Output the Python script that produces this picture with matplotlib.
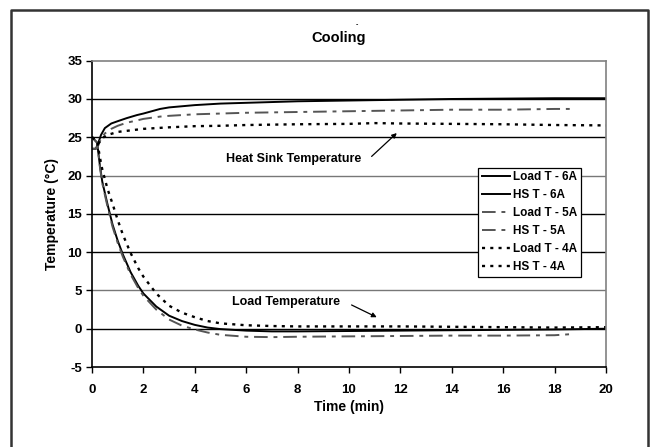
import matplotlib
matplotlib.use("Agg")
import matplotlib.pyplot as plt

plt.rcParams['font.family'] = ['Liberation Sans', 'DejaVu Sans']
plt.rcParams['font.weight'] = 'bold'
plt.rcParams['axes.unicode_minus'] = False

# ---- data ----
t_load = [0, 0.2, 0.3, 0.4, 0.6, 0.8, 1.0, 1.2, 1.5, 1.8, 2.0, 2.5, 3.0, 3.5, 4.0, 4.5,
          5, 6, 7, 8, 10, 12, 14, 16, 18, 20]
load_6a = [25, 24.3, 21.5, 19.2, 16.3, 13.6, 11.5, 9.7, 7.4, 5.6, 4.6, 2.9, 1.7, 1.0, 0.5, 0.15,
           -0.05, -0.25, -0.35, -0.35, -0.3, -0.25, -0.2, -0.15, -0.1, 0.0]
t_load5 = [0, 0.2, 0.3, 0.4, 0.6, 0.8, 1.0, 1.2, 1.5, 1.8, 2.0, 2.5, 3.0, 3.5, 4.0, 4.5,
           5, 6, 7, 8, 10, 12, 14, 16, 18, 18.7]
load_5a = [25, 24.3, 21.3, 19.0, 16.0, 13.3, 11.2, 9.4, 7.1, 5.3, 4.3, 2.5, 1.2, 0.4, -0.1, -0.5,
           -0.8, -1.05, -1.1, -1.05, -1.0, -0.95, -0.9, -0.9, -0.85, -0.7]
load_4a = [25, 24.6, 22.5, 20.8, 18.3, 16.3, 14.2, 12.3, 9.9, 7.9, 6.8, 4.6, 3.0, 2.1, 1.5, 1.0,
           0.7, 0.45, 0.35, 0.3, 0.3, 0.3, 0.25, 0.2, 0.15, 0.2]

t_hs = [0, 0.15, 0.25, 0.35, 0.5, 0.75, 1.0, 1.35, 1.75, 2.0, 2.65, 3.0, 4.0, 5, 6, 8, 10,
        12, 14, 16, 18, 20]
hs_6a = [23.5, 23.5, 24.3, 25.3, 26.2, 26.8, 27.1, 27.5, 27.9, 28.1, 28.7, 28.9, 29.2, 29.4,
         29.5, 29.7, 29.8, 29.9, 30.0, 30.05, 30.1, 30.1]
t_hs5 = [0, 0.15, 0.25, 0.35, 0.5, 0.75, 1.0, 1.35, 1.75, 2.0, 2.65, 3.0, 4.0, 5, 6, 8, 10,
         12, 14, 16, 18, 18.7]
hs_5a = [23.5, 23.5, 24.0, 24.8, 25.5, 26.1, 26.5, 26.9, 27.2, 27.4, 27.7, 27.8, 28.0, 28.1,
         28.2, 28.3, 28.4, 28.5, 28.6, 28.6, 28.7, 28.7]
t_hs4 = [0, 0.15, 0.25, 0.4, 0.6, 1.0, 1.5, 2.0, 2.5, 3.0, 4.0, 5, 6, 8, 10, 11, 12, 14, 16,
         18, 20]
hs_4a = [25.0, 24.6, 24.2, 24.9, 25.3, 25.7, 25.9, 26.1, 26.2, 26.3, 26.45, 26.5, 26.6, 26.7,
         26.75, 26.85, 26.8, 26.75, 26.7, 26.6, 26.55]

x_ticks = [0, 2, 4, 6, 8, 10, 12, 14, 16, 18, 20]
y_ticks = [-5, 0, 5, 10, 15, 20, 25, 30, 35]

# ---- figure ----
fig = plt.figure(figsize=(6.5, 4.47), dpi=100)
ax = fig.add_axes([92/650, 1-367/447, (606-92)/650, (367-60.7)/447])

dashdot = (0, (7, 3, 2, 3))
dotted = (0, (1.3, 2.2))

ax.plot(t_load, load_6a, color='black', lw=1.4, label='Load T - 6A')
ax.plot(t_hs, hs_6a, color='black', lw=1.4, label='HS T - 6A')
ax.plot(t_load5, load_5a, color='#555555', lw=1.4, ls=dashdot, label='Load T - 5A')
ax.plot(t_hs5, hs_5a, color='#555555', lw=1.4, ls=dashdot, label='HS T - 5A')
ax.plot(t_load, load_4a, color='black', lw=1.7, ls=dotted, label='Load T - 4A')
ax.plot(t_hs4, hs_4a, color='black', lw=1.7, ls=dotted, label='HS T - 4A')

ax.set_xlim(0, 20)
ax.set_ylim(-5, 35)
ax.set_xticks(x_ticks)
ax.set_yticks(y_ticks)
ax.tick_params(axis='both', direction='out', length=4, width=1, labelsize=9.5)
ax.tick_params(axis='x', pad=8)
ax.tick_params(axis='y', pad=3)
for lab in ax.get_xticklabels() + ax.get_yticklabels():
    lab.set_fontweight('bold')

ax.set_axisbelow(True)
ax.yaxis.grid(True, lw=1.0)
grid_colors = {-5: 'none', 0: 'black', 5: '#777777', 10: 'black', 15: 'black', 20: '#777777',
               25: 'black', 30: 'black', 35: 'none'}
for v, gl in zip(y_ticks, ax.get_ygridlines()):
    gl.set_color(grid_colors[v])

ax.spines['left'].set_color('black')
ax.spines['bottom'].set_color('black')
ax.spines['top'].set_color('#808080')
ax.spines['right'].set_color('#808080')
for s in ax.spines.values():
    s.set_linewidth(1.2)

ax.set_xlabel('Time (min)', fontsize=10, fontweight='bold', labelpad=3)
ax.set_ylabel('Temperature (°C)', fontsize=10, fontweight='bold', labelpad=6)

fig.text(339/650, 1-38/447, 'Cooling', ha='center', va='center', fontsize=10.5, fontweight='bold')
fig.text(357/650, 1-25/447, '-', ha='center', va='center', fontsize=5)

arrow_kw = dict(arrowstyle='-|>', color='black', lw=0.9, mutation_scale=7, shrinkA=0, shrinkB=0)
ax.text(7.86, 22.1, 'Heat Sink Temperature', ha='center', va='center', fontsize=9,
        fontweight='bold')
ax.annotate('', xy=(11.86, 25.55), xytext=(10.88, 22.5), arrowprops=arrow_kw)
ax.text(7.55, 3.5, 'Load Temperature', ha='center', va='center', fontsize=9,
        fontweight='bold')
ax.annotate('', xy=(11.08, 1.5), xytext=(10.1, 3.1), arrowprops=arrow_kw)

leg = ax.legend(loc='upper left', bbox_to_anchor=(0.751, 0.65), fontsize=8.5,
                frameon=True, fancybox=False, framealpha=1, edgecolor='black',
                handlelength=2.4, handletextpad=0.3, labelspacing=0.5, borderpad=0.3,
                borderaxespad=0)
leg.get_frame().set_linewidth(0.9)
for txt in leg.get_texts():
    txt.set_fontweight('bold')

# outer frame (open at bottom)
fig.add_artist(plt.Line2D([11/650, 11/650, 648/650, 648/650], [0, 1-10/447, 1-10/447, 0],
                          transform=fig.transFigure, color='#333333', lw=1.8))

fig.savefig('out.png', dpi=100)
